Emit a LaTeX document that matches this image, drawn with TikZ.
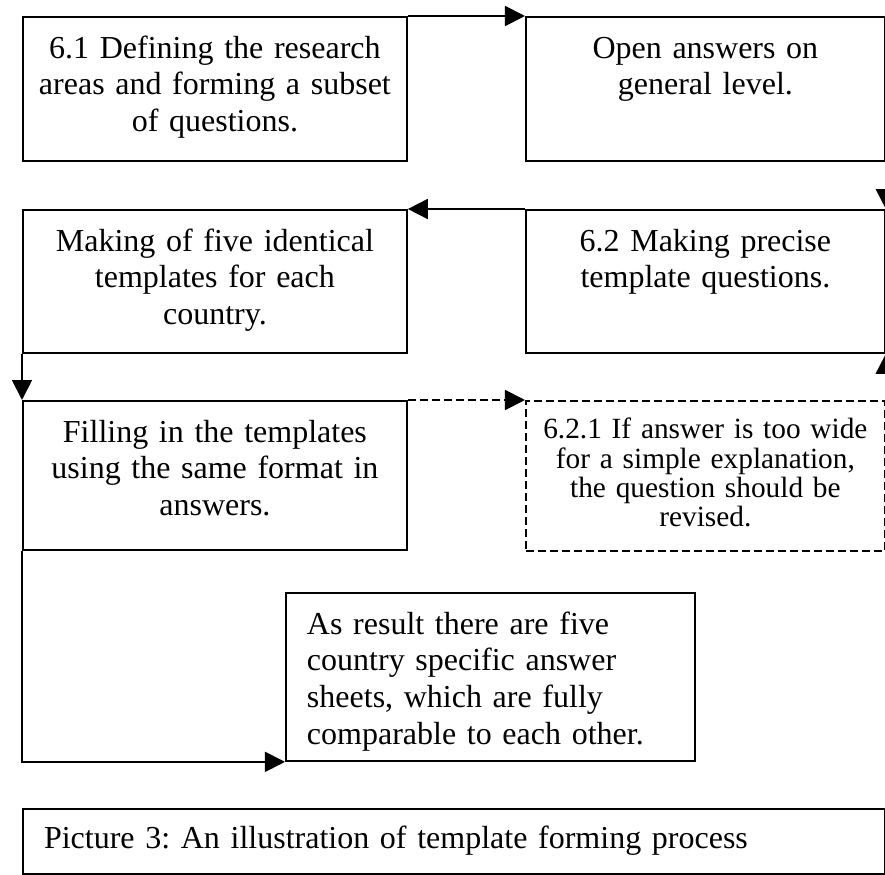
\documentclass[tikz,border=0pt]{standalone}
\usepackage{fontspec}
\setmainfont{Liberation Serif}
\usetikzlibrary{arrows.meta}
\frenchspacing

\begin{document}
\begin{tikzpicture}[x=0.375pt,y=-0.375pt,font=\fontsize{12}{13.8}\selectfont,
  stepbox/.style={draw,line width=0.7pt,anchor=north west,inner sep=0pt,align=center,text height=15.4pt,text width=#1},
  flow/.style={line width=0.7pt,-{Triangle[length=7.5pt,width=7.5pt]}},
  maybe/.style={dash pattern=on 3pt off 1.5pt}]
\useasboundingbox (0,0) rectangle (885,875);
\node[stepbox=144pt,text depth=38.6pt] at (22,16) (define) {6.1 Defining the research\\areas and forming a subset\\of questions.};
\node[stepbox=134.6pt,text depth=38.6pt] at (525,16) (open) {Open answers on\\general level.};
\node[stepbox=144pt,text depth=38.2pt] at (22,209) (make) {Making of five identical\\templates for each\\country.};
\node[stepbox=134.6pt,text depth=38.2pt] at (525,209) (precise) {6.2 Making precise\\template questions.};
\node[stepbox=144pt,text depth=40.5pt] at (22,400) (fill) {Filling in the templates\\using the same format in\\answers.};
\node[stepbox=134.6pt,maybe,font=\fontsize{11}{11}\selectfont,text height=14.25pt,text depth=42pt] at (525,400) (revise) {6.2.1 If answer is too wide\\for a simple explanation,\\the question should be\\revised.};
\node[stepbox=137.6pt,align=left,inner xsep=7.9pt,text depth=47.6pt] at (285,592) (result) {As result there are five\\country specific answer\\sheets, which are fully\\comparable to each other.};
\node[stepbox=307.4pt,align=left,inner xsep=7.9pt,text height=15pt,text depth=9.4pt] at (22,808) (caption) {Picture 3: An illustration of template forming process};
% the flow
\draw[flow] (define.north east) -- (open.north west);
\draw[flow] (open.south east) -- (precise.north east);
\draw[flow] (precise.north west) -- (make.north east);
\draw[flow] (make.south west) -- (fill.north west);
\draw[flow,maybe] (fill.north east) -- (revise.north west);
\draw[flow,maybe] (revise.north east) -- (precise.south east);
\draw[flow] (fill.south west) |- (result.south west);
\end{tikzpicture}
\end{document}
